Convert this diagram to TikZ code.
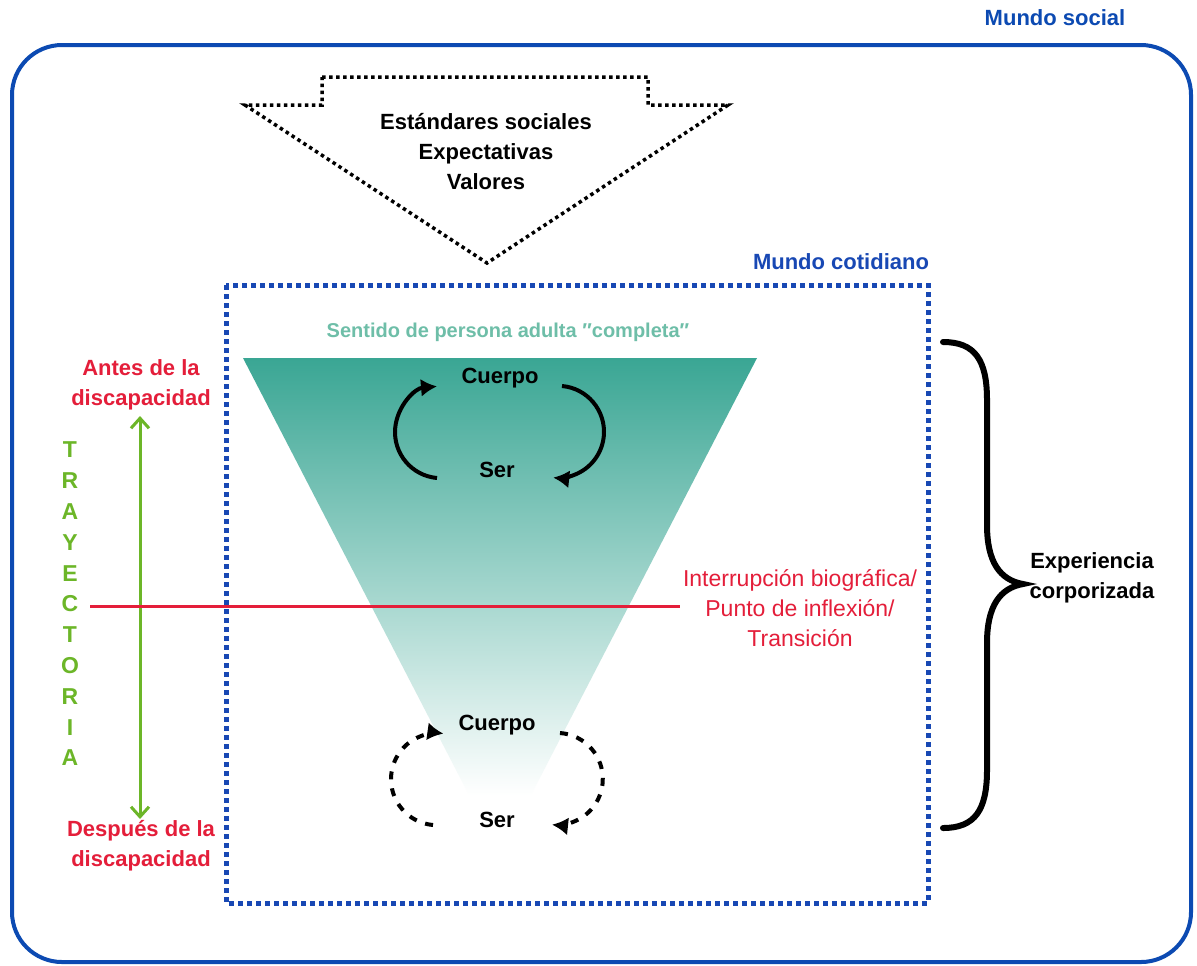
\documentclass[tikz,border=0pt]{standalone}
\usepackage{fontspec}
\setmainfont{Liberation Sans}
\usetikzlibrary{arrows.meta}
\definecolor{frameblue}{RGB}{12,74,178}
\definecolor{dotblue}{RGB}{24,72,180}
\definecolor{teal1}{RGB}{58,166,148}
\definecolor{tealtxt}{RGB}{110,190,168}
\definecolor{redt}{RGB}{228,30,58}
\definecolor{greent}{RGB}{108,182,40}
\pgfdeclareverticalshading{trishade}{100bp}{rgb(0bp)=(1,1,1); rgb(25bp)=(1,1,1); rgb(31bp)=(1,1,1); rgb(75bp)=(0.227,0.651,0.58); rgb(100bp)=(0.227,0.651,0.58)}
\tikzset{
  lbl/.style={font=\bfseries\fontsize{11}{15}\selectfont, align=center, inner sep=0pt},
  cycarrow/.style={line width=2pt, -{Latex[length=8pt,width=9pt]}},
  cycdash/.style={cycarrow, dash pattern=on 4pt off 4.5pt},
  outerframe/.style={draw=frameblue, line width=2pt, rounded corners=25pt},
  innerframe/.style={draw=dotblue, line width=2.5pt, dash pattern=on 2.5pt off 2pt},
  bigarrow/.style={draw=black, line width=1.75pt, dash pattern=on 1.75pt off 1.75pt},
  brace/.style={line width=3pt, line cap=round},
}
\begin{document}
\begin{tikzpicture}[x=0.5pt,y=-0.5pt]
\useasboundingbox (0,0) rectangle (1197,965);
\fill[white] (0,0) rectangle (1197,965);

% outer frame
\draw[outerframe] (12,45) rectangle (1191,962);
\node[lbl, text=frameblue] (social) at (1055,18) {Mundo social};

% top dotted block arrow
\draw[bigarrow] (322,77) -- (648,77) -- (648,105) -- (728,105) -- (487,263) -- (245,105) -- (322,105) -- cycle;
\node[lbl] (std) at (486,152) {Estándares sociales\\Expectativas\\Valores};

% inner dotted frame
\draw[innerframe] (226,285) rectangle (928,903);
\node[lbl, text=dotblue] (cotid) at (841,262) {Mundo cotidiano};

% triangle
\shade[shading=trishade] (243,358) -- (757,358) -- (500,855) -- cycle;
\node[lbl, text=tealtxt, font=\bfseries\fontsize{10}{12}\selectfont] (sentido) at (508,332) {Sentido de persona adulta ″completa″};

% top cycle
\node[lbl] (cuerpo1) at (500,378) {Cuerpo};
\node[lbl] (ser1) at (497,470) {Ser};
\draw[cycarrow] (437,478) arc[start angle=95, end angle=265, radius=46];
\draw[cycarrow] (562,386) arc[start angle=-85, end angle=96, radius=46];

% bottom cycle
\node[lbl] (cuerpo2) at (497,725) {Cuerpo};
\node[lbl] (ser2) at (497,820) {Ser};
\draw[cycdash] (433,825) arc[start angle=95, end angle=278, radius=46];
\draw[cycdash] (560,733) arc[start angle=-86, end angle=96, radius=46];

% trajectory
\node[lbl, text=redt] (antes) at (141,385) {Antes de la\\discapacidad};
\node[lbl, text=redt] (despues) at (141,846) {Después de la\\discapacidad};
\node[lbl, text=greent, font=\bfseries\fontsize{11.5}{15.4}\selectfont] (tray) at (70,604) {T\\R\\A\\Y\\E\\C\\T\\O\\R\\I\\A};
\coordinate (gtop) at (140,416);
\coordinate (gbot) at (140,819);
\draw[greent, line width=1.5pt, {Straight Barb[length=5pt,width=9pt]}-{Straight Barb[length=5pt,width=9pt]}] (gtop) -- (gbot);

% interruption line
\coordinate (rl) at (90,606);
\coordinate (rr) at (680,606);
\draw[redt, line width=1.5pt] (rl) -- (rr);
\node[align=center, inner sep=0pt, text=redt, font=\fontsize{11.5}{15}\selectfont] (interr) at (800,608) {Interrupción biográfica/\\Punto de inflexión/\\Transición};

% brace
\draw[brace] (943,342) .. controls (975,342) and (987,360) .. (987,400) -- (987,525)
  .. controls (987,562) and (1000,580) .. (1023,584)
  .. controls (1000,588) and (987,606) .. (987,643) -- (987,770)
  .. controls (987,810) and (975,828) .. (943,828);
\node[lbl] (exper) at (1092,578) {Experiencia\\corporizada};
\end{tikzpicture}
\end{document}
